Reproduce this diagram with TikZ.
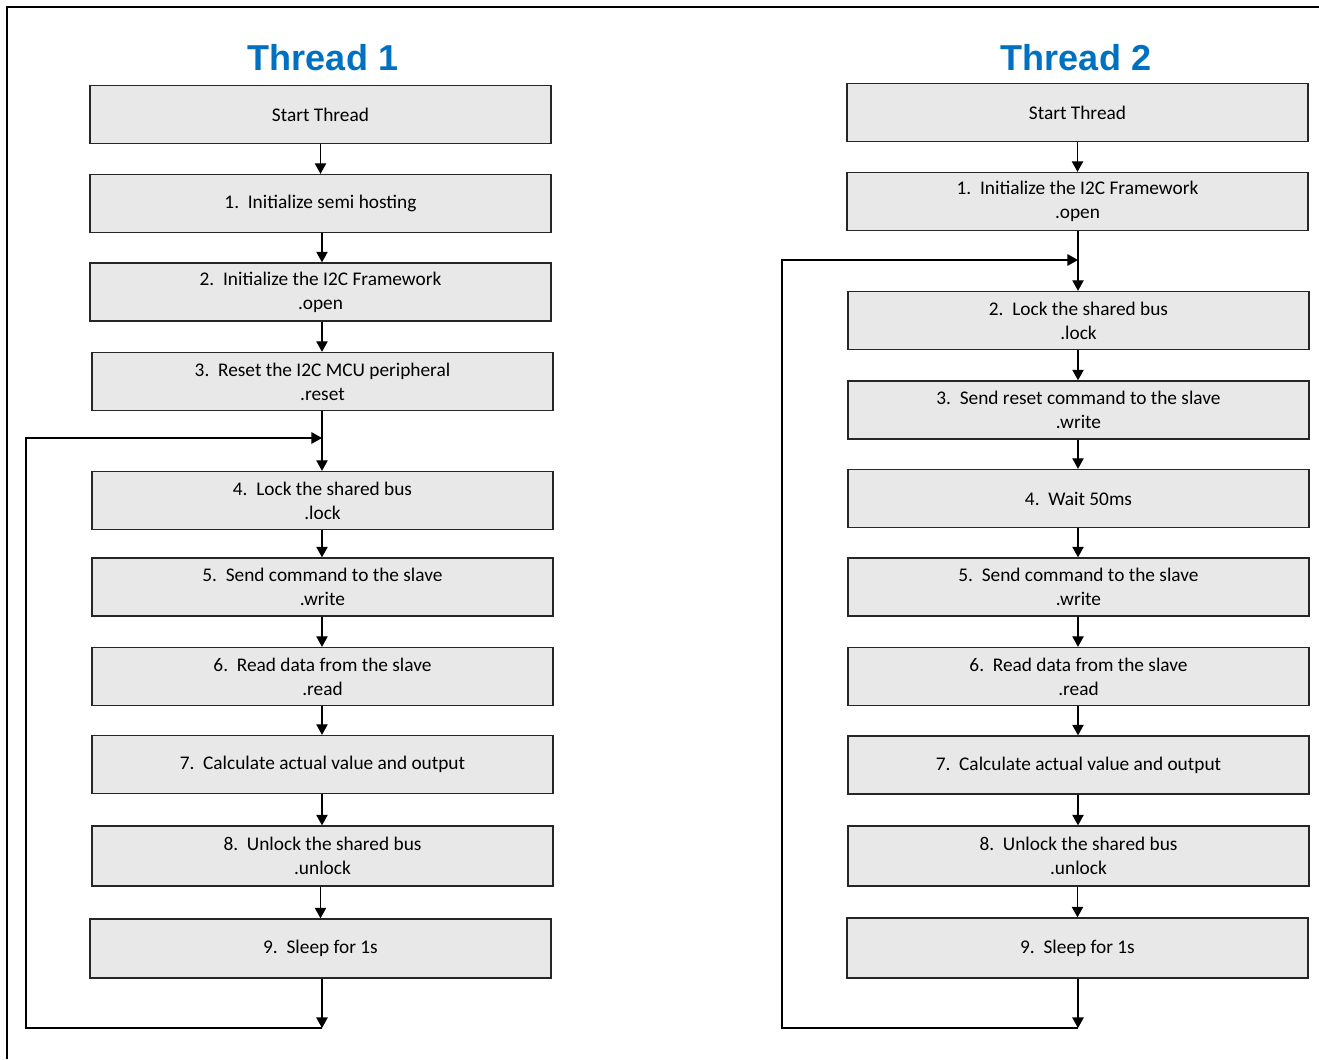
\documentclass[tikz,border=0pt]{standalone}
\usepackage{fontspec}
\setmainfont{Carlito}
\newfontfamily\titlefont{Liberation Sans}
\usepackage{tikz}
\usetikzlibrary{arrows.meta}
\usetikzlibrary{positioning,calc}
\definecolor{titleblue}{RGB}{0,112,192}
\definecolor{boxgray}{RGB}{232,232,232}

\tikzset{
	stepbox/.style={draw=black!85, line width=0.8pt, fill=boxgray, minimum width=9.22cm,
		minimum height=1.16cm, align=center, inner sep=0pt,
		font=\fontsize{11}{13.6}\selectfont},
	arr/.style={-{Triangle[length=6pt,width=6.5pt]}, line width=0.7pt},
	thtitle/.style={font=\titlefont\bfseries\fontsize{20.5}{24}\selectfont, text=titleblue}
}

\begin{document}
\begin{tikzpicture}[x=0.02cm,y=-0.02cm]
			\useasboundingbox (0,0) rectangle (1319,1059);
			\draw[line width=1.5pt] (7,1059) -- (7,7) -- (1319,7);
			% Thread 1
			\node[thtitle] (t1) at (323,58) {Thread 1};
			\node[stepbox] (l0) at (320.5,114.5) {Start Thread};
			\node[stepbox] (l1) at (320.5,203.5) {1.\ \ Initialize semi hosting};
			\node[stepbox] (l2) at (320.5,292) {2.\ \ Initialize the I2C Framework\\.open};
			\node[stepbox] (l3) at (322.5,381.5) {3.\ \ Reset the I2C MCU peripheral\\.reset};
			\node[stepbox] (l4) at (322.5,500.5) {4.\ \ Lock the shared bus\\.lock};
			\node[stepbox] (l5) at (322.5,587) {5.\ \ Send command to the slave\\.write};
			\node[stepbox] (l6) at (322.5,676.5) {6.\ \ Read data from the slave\\.read};
			\node[stepbox] (l7) at (322.5,764.5) {7.\ \ Calculate actual value and output};
			\node[stepbox, minimum height=1.2cm] (l8) at (322.5,856) {8.\ \ Unlock the shared bus\\.unlock};
			\node[stepbox, minimum height=1.18cm] (l9) at (320.5,948.5) {9.\ \ Sleep for 1s};
			\coordinate (j1) at (322,438);
			\coordinate (e1) at (322,1028);
			\coordinate (k1) at (26,1028);
			\coordinate (m1) at (26,438);
			\draw[arr] (l0.south) -- (l0.south |- l1.north);
			\draw[arr] (l1.south -| j1) -- (j1 |- l2.north);
			\draw[arr] (l2.south -| j1) -- (j1 |- l3.north);
			\draw[arr] (l3.south -| j1) -- (j1 |- l4.north);
			\draw[arr] (l4.south -| j1) -- (j1 |- l5.north);
			\draw[arr] (l5.south -| j1) -- (j1 |- l6.north);
			\draw[arr] (l6.south -| j1) -- (j1 |- l7.north);
			\draw[arr] (l7.south -| j1) -- (j1 |- l8.north);
			\draw[arr] (l8.south -| l9) -- (l9.north);
			\draw[arr] (l9.south -| e1) -- (e1);
			\draw[arr] (e1) -- (k1) -- (m1) -- (j1);
			% Thread 2
			\node[thtitle] (t2) at (1076,58) {Thread 2};
			\node[stepbox] (r0) at (1077.5,112.5) {Start Thread};
			\node[stepbox] (r1) at (1077.5,201.5) {1.\ \ Initialize the I2C Framework\\.open};
			\node[stepbox] (r2) at (1078.5,320.5) {2.\ \ Lock the shared bus\\.lock};
			\node[stepbox] (r3) at (1078.5,410) {3.\ \ Send reset command to the slave\\.write};
			\node[stepbox] (r4) at (1078.5,498.5) {4.\ \ Wait 50ms};
			\node[stepbox] (r5) at (1078.5,587) {5.\ \ Send command to the slave\\.write};
			\node[stepbox] (r6) at (1078.5,676.5) {6.\ \ Read data from the slave\\.read};
			\node[stepbox] (r7) at (1078.5,765) {7.\ \ Calculate actual value and output};
			\node[stepbox, minimum height=1.2cm] (r8) at (1078.5,856) {8.\ \ Unlock the shared bus\\.unlock};
			\node[stepbox, minimum height=1.2cm] (r9) at (1077.5,948) {9.\ \ Sleep for 1s};
			\coordinate (j2) at (1078,260);
			\coordinate (e2) at (1078,1028);
			\coordinate (k2) at (782,1028);
			\coordinate (m2) at (782,260);
			\draw[arr] (r0.south) -- (r1.north);
			\draw[arr] (r1.south -| j2) -- (j2 |- r2.north);
			\draw[arr] (r2.south -| j2) -- (j2 |- r3.north);
			\draw[arr] (r3.south -| j2) -- (j2 |- r4.north);
			\draw[arr] (r4.south -| j2) -- (j2 |- r5.north);
			\draw[arr] (r5.south -| j2) -- (j2 |- r6.north);
			\draw[arr] (r6.south -| j2) -- (j2 |- r7.north);
			\draw[arr] (r7.south -| j2) -- (j2 |- r8.north);
			\draw[arr] (r8.south -| r9) -- (r9.north);
			\draw[arr] (r9.south -| e2) -- (e2);
			\draw[arr] (e2) -- (k2) -- (m2) -- (j2);
		\end{tikzpicture}
\end{document}
